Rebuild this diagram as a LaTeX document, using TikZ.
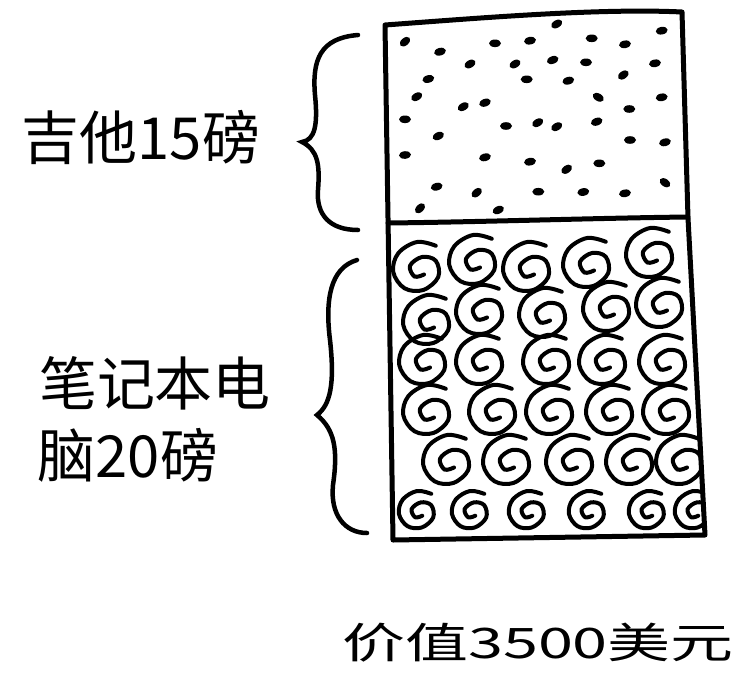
\documentclass[tikz,border=0pt]{standalone}
\usepackage{fontspec}
\newfontfamily\cjk{Noto Sans CJK SC}
\begin{document}
\begin{tikzpicture}[x=1pt,y=-1pt,
  ink/.style={line width=5pt,line cap=round,line join=round},
  bracestyle/.style={line width=4.5pt,line cap=round},
  dotmark/.style={fill=black},
  label/.style={font=\cjk\fontsize{58}{60}\selectfont,inner sep=0pt,anchor=center},
  swirl/.pic={\draw[line width=4pt,line cap=round] plot[smooth,tension=0.6] coordinates
     {(0.75,-0.85) (0,-1.0) (-0.75,-0.55) (-0.95,0.2) (-0.5,0.85) (0.25,0.92) (0.85,0.4) (0.75,-0.25) (0.2,-0.4) (-0.28,-0.05) (-0.1,0.38) (0.28,0.3)};}
]
\useasboundingbox (0,0) rectangle (745,681);
% dots
\foreach \x/\y/\a in {556.7/24/30, 661.7/30.7/10, 405/41.7/40, 495/43.3/0, 530/40.7/10, 591.7/38.3/0, 625/44.3/10,
  440/51.7/15, 470/64/30, 515/64/30, 552.7/60/20, 586/62.3/0, 655/63.3/10, 428.3/79/15, 526.7/79.3/0, 568.3/80.7/15,
  623.3/75/35, 416.7/96.7/30, 463.3/106.7/30, 485/102.7/20, 598.3/97.3/-30, 661.7/97.3/10, 629.3/109/0,
  405/119.3/0, 506/126/0, 537.7/122.7/30, 556.7/126.7/30, 596.7/121.7/20, 438.3/136/25, 630/140/0, 665/142.3/15,
  405/155/5, 485/157.3/15, 530/161.7/10, 566.7/169.3/35, 599.3/163.3/0, 436.7/186.7/15, 476.7/192.7/40,
  538.3/191.7/0, 583.3/192/10, 625/193.3/10, 665/182.7/-35, 420/208.3/45, 498.3/210/25}
  \fill[dotmark,rotate around={\a:(\x,\y)}] (\x,\y) ellipse [x radius=6pt,y radius=3.8pt];
% swirls, clipped to the lower part of the box
\begin{scope}
\clip (388,223) -- (688,217) -- (705,535) -- (393,540) -- cycle;
\foreach \x/\y in {417/267,473/260,527/267,587/263,650/253,
                   427/320,480/310,543/313,607/307,660/303,
                   423/360,480/360,547/360,603/360,663/360,
                   427/410,493/410,550/410,610/410,667/410,
                   447/460,507/460,570/460,630/460,680/460}
  \pic[scale=25] at (\x,\y) {swirl};
\foreach \x/\y in {417/510,470/510,527/510,587/510,647/510,693/510}
  \pic[scale=19] at (\x,\y) {swirl};
\end{scope}
% box
\draw[ink] (385,25) .. controls (480,18) and (600,8) .. (682,12) -- (688,218) -- (705,535) -- (393,540) -- cycle;
\draw[ink] (388,223) .. controls (480,222) and (600,218) .. (688,217);
% braces
\coordinate (b1t) at (358,35);
\coordinate (b1m) at (302,142);
\coordinate (b1b) at (358,230);
\draw[bracestyle] (b1t) .. controls (320,38) and (312,60) .. (315,95)
   .. controls (318,125) and (315,140) .. (b1m)
   .. controls (318,150) and (320,165) .. (318,190)
   .. controls (316,215) and (330,230) .. (b1b);
\coordinate (b2t) at (357,260);
\coordinate (b2m) at (317,415);
\coordinate (b2b) at (367,533);
\draw[bracestyle] (b2t) .. controls (330,268) and (325,300) .. (330,340)
   .. controls (335,385) and (330,405) .. (b2m)
   .. controls (335,430) and (338,450) .. (333,485)
   .. controls (330,515) and (345,533) .. (b2b);
% labels
\node[label] (guitar) at (141,137) {吉他15磅};
\node[label] (laptop1) at (155,383) {笔记本电};
\node[label] (laptop2) at (128,455) {脑20磅};
\node[label,font=\cjk\fontsize{42}{44}\selectfont,xscale=1.5] (value) at (538,643) {价值3500美元};
\end{tikzpicture}
\end{document}
